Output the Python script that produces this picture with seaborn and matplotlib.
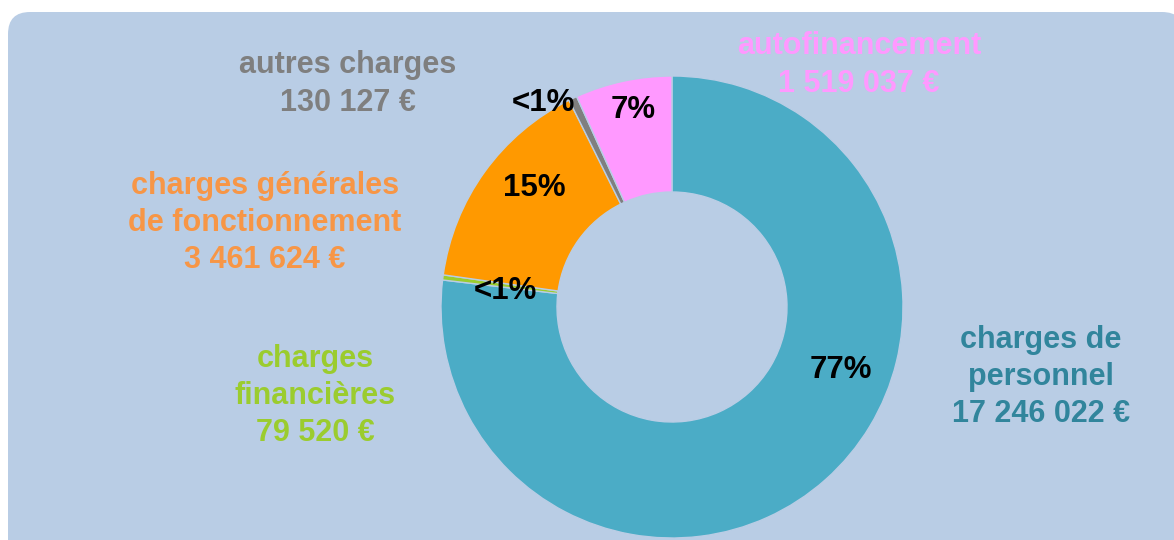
import matplotlib
matplotlib.use("Agg")
import matplotlib.pyplot as plt
import seaborn as sns
from matplotlib.patches import FancyBboxPatch

# ---- data ----
categories = ["charges de\npersonnel", "charges\nfinancières",
              "charges générales\nde fonctionnement", "autres charges",
              "autofinancement"]
amounts = [17246022, 79520, 3461624, 130127, 1519037]
slice_colors = ["#4bacc6", "#9bcc2e", "#ff9900", "#7f7f7f", "#ff99ff"]
label_colors = ["#31859c", "#9bcc2e", "#f79646", "#7f7f7f", "#ff99ff"]

# ---- style ----
sns.set_theme(style="white")
plt.rcParams["font.family"] = ["Liberation Sans", "DejaVu Sans"]
BG = "#b9cde5"
W, H = 1174, 540

fig = plt.figure(figsize=(W / 100, H / 100), dpi=100)
fig.patch.set_facecolor("white")
ax = fig.add_axes([0, 0, 1, 1])

palette = sns.color_palette(slice_colors)

# rounded panel background
panel = FancyBboxPatch((8 + 22, -40 + 22), W + 10 - 8 - 44, (H - 12) + 40 - 44,
                       boxstyle="round,pad=22", facecolor=BG, edgecolor="none",
                       zorder=0)
ax.add_patch(panel)

cx, cy, R = 672, H - 307, 231
wedges, _ = ax.pie(amounts, colors=palette, startangle=90, counterclock=False,
                   radius=R, center=(cx, cy),
                   wedgeprops=dict(width=116, edgecolor=BG, linewidth=1.0))
for w in wedges:
    w.set_zorder(2)

ax.set_xlim(0, W)
ax.set_ylim(0, H)
ax.set_aspect("auto")
ax.axis("off")

total = sum(amounts)

def pct_text(v):
    p = 100 * v / total
    return "<1%" if p < 1 else f"{p:.0f}%"

def money(v):
    return f"{v:,}".replace(",", " ") + " €"

# percentage label positions (pixel, from top)
pct_pos = [(841, 370), (505, 291), (534, 188), (543, 103), (633, 110)]
# category label positions (pixel, from top)
lab_pos = [(1041, 377), (315, 396), (265, 223), (348, 84), (859, 65)]

for v, (x, y) in zip(amounts, pct_pos):
    ax.text(x, H - y, pct_text(v), ha="center", va="center", fontsize=22.5,
            fontweight="bold", color="black", zorder=3)

for name, v, col, (x, y) in zip(categories, amounts, label_colors, lab_pos):
    ax.text(x, H - y, name + "\n" + money(v), ha="center", va="center",
            fontsize=22, fontweight="bold", color=col, linespacing=1.32,
            multialignment="center", zorder=3)

fig.savefig("out.png", dpi=100, facecolor=fig.get_facecolor())
